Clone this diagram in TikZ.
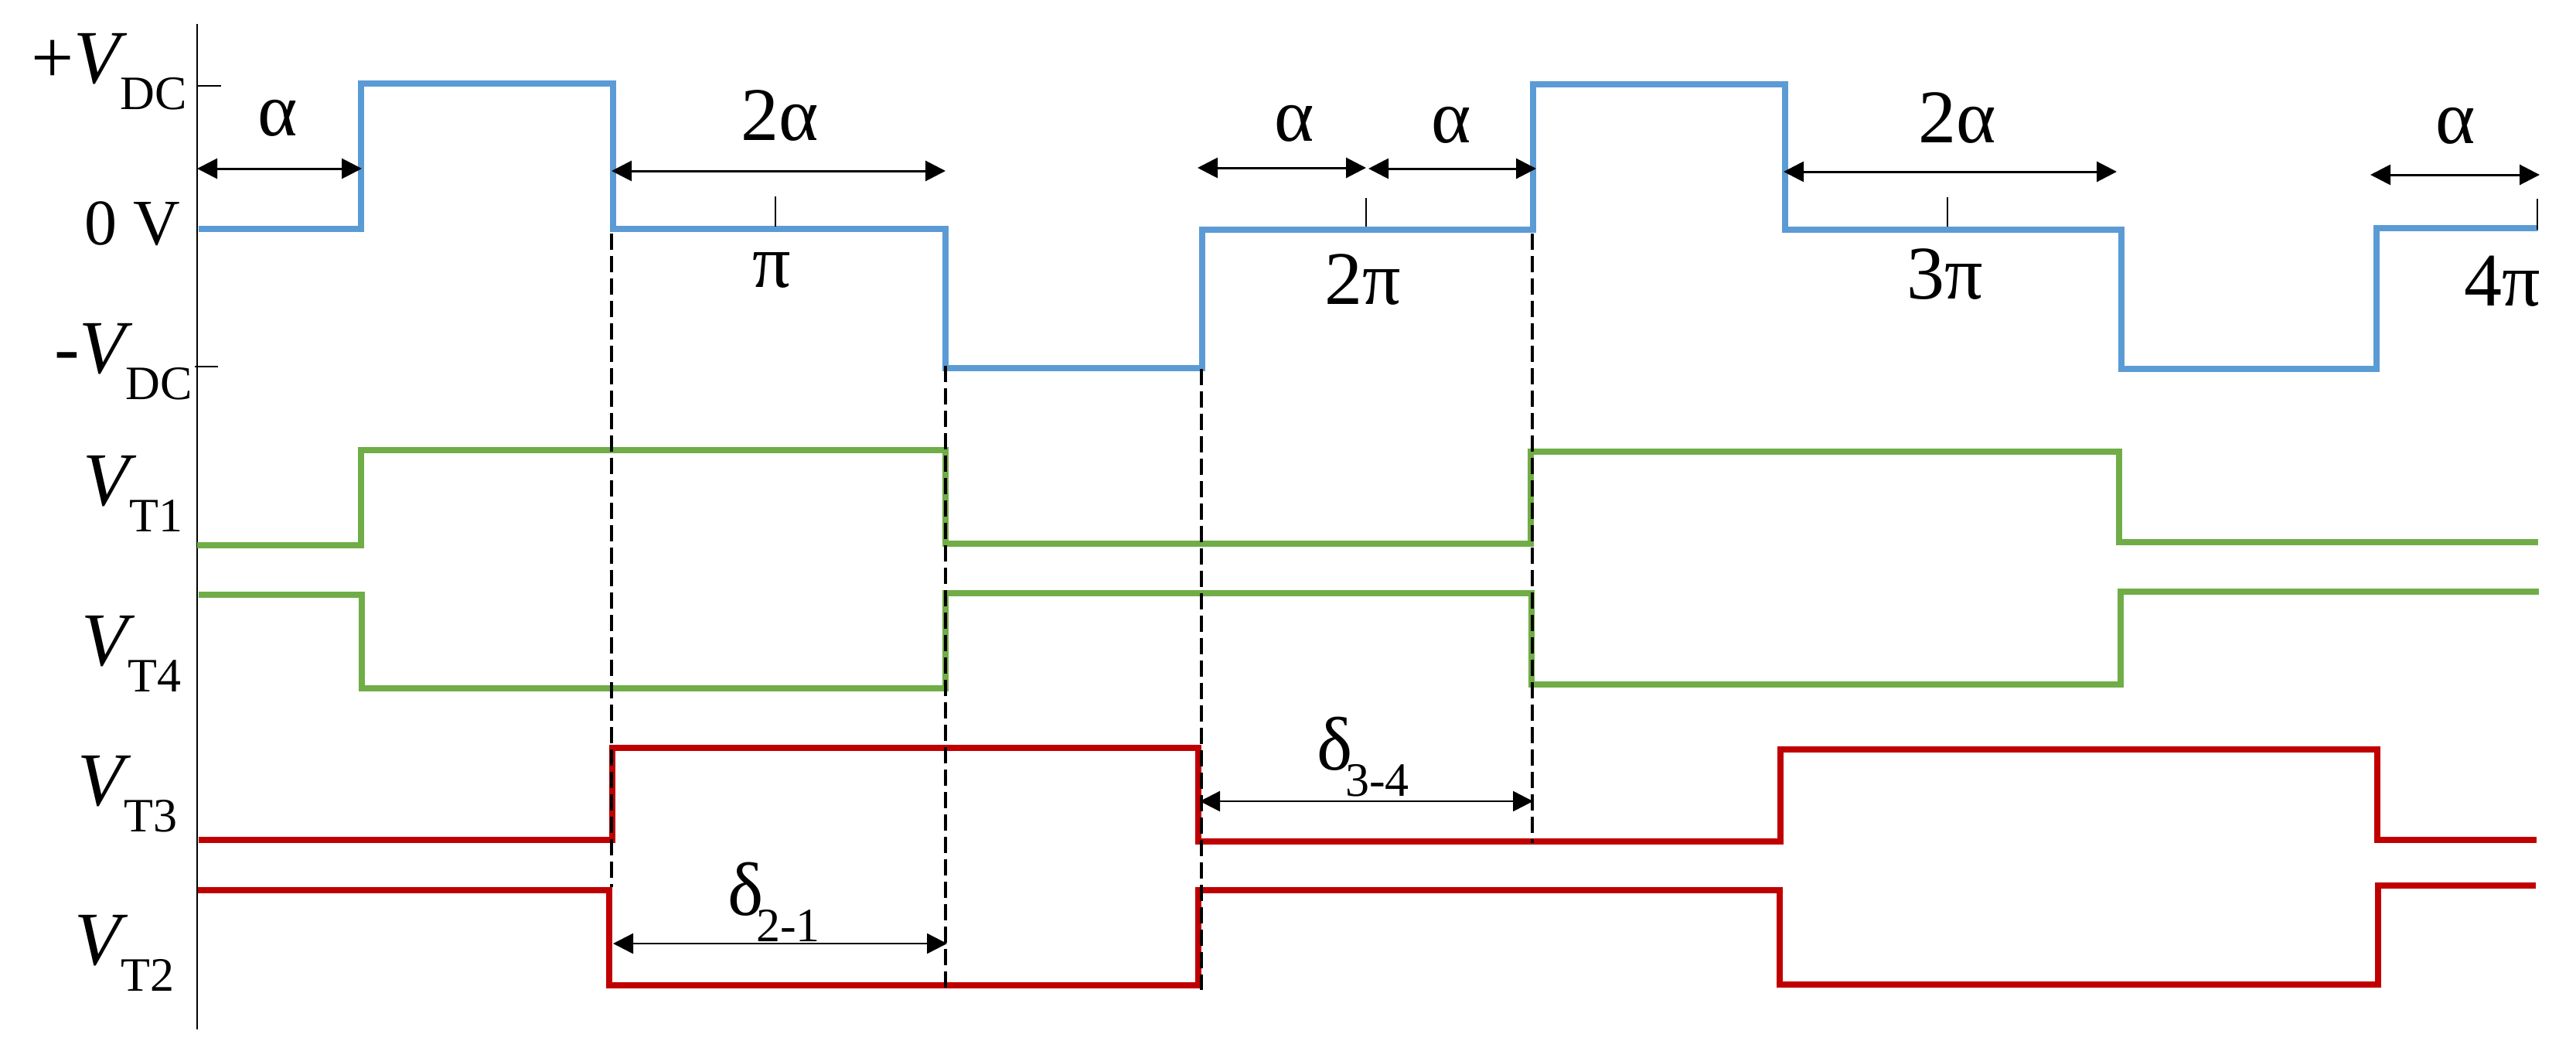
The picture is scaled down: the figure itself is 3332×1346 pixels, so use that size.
\documentclass[tikz,border=0pt]{standalone}
\usepackage{fontspec}
\setmainfont{Liberation Serif}
\usetikzlibrary{arrows.meta}

\definecolor{wblue}{HTML}{5B9BD5}
\definecolor{wgreen}{HTML}{70AD47}
\definecolor{wred}{HTML}{C00000}

\newcommand{\lowtext}[1]{\kern-9pt\raisebox{-34pt}{\fontsize{62}{62}\selectfont #1}}

\tikzset{
    wave/.style={line width=8pt, miter limit=4},
    dim/.style={<->, >={Triangle[length=26pt, width=26pt]}, line width=3pt},
    drop/.style={line width=4pt, dash pattern=on 21pt off 8pt},
    tick/.style={line width=2.5pt},
    lbl/.style={inner sep=0pt, outer sep=0pt, anchor=base, font=\fontsize{98}{98}\selectfont},
    sig/.style={lbl, anchor=base west}
}

\begin{document}
\begin{tikzpicture}[x=1pt, y=-1pt]
    \useasboundingbox (0,0) rectangle (3332,1346);

    % axis and level ticks
    \draw[tick] (255,31) -- (255,1331);
    \draw[tick] (255,111) -- (286,111);
    \draw[tick] (252,474) -- (282,474);

    % output voltage
    \draw[wave, wblue] (257,296) -- (467,296) -- (467,108) -- (793,108) -- (793,296) -- (1223,296) -- (1223,476)
        -- (1555,476) -- (1555,297) -- (1983,297) -- (1983,109) -- (2309,109) -- (2309,297) -- (2744,297)
        -- (2744,477) -- (3074,477) -- (3074,295) -- (3283,295);

    % gate signals, upper leg
    \draw[wave, wgreen] (255,705) -- (467,705) -- (467,582) -- (1223,582) -- (1223,703) -- (1980,703)
        -- (1980,584) -- (2741,584) -- (2741,701) -- (3283,701);
    \draw[wave, wgreen] (257,769) -- (468,769) -- (468,890) -- (1223,890) -- (1223,767) -- (1981,767)
        -- (1981,885) -- (2743,885) -- (2743,765) -- (3284,765);

    % gate signals, lower leg
    \draw[wave, wred] (257,1086) -- (792,1086) -- (792,967) -- (1550,967) -- (1550,1088) -- (2303,1088)
        -- (2303,969) -- (3075,969) -- (3075,1086) -- (3281,1086);
    \draw[wave, wred] (256,1151) -- (788,1151) -- (788,1274) -- (1550,1274) -- (1550,1151) -- (2302,1151)
        -- (2302,1273) -- (3076,1273) -- (3076,1145) -- (3280,1145);

    % dashed drop lines
    \draw[drop] (791,302) -- (791,1147);
    \draw[drop] (1223,473) -- (1223,1278);
    \draw[drop] (1554,477) -- (1554,1280);
    \draw[drop] (1982,302) -- (1982,1090);

    % phase ticks
    \draw[tick] (1003,254) -- (1003,293);
    \draw[tick] (1767,256) -- (1767,293);
    \draw[tick] (2519,255) -- (2519,293);
    \draw[tick] (3282,257) -- (3282,297);

    % ends of the width arrows
    \coordinate (aAl) at (255,218);
    \coordinate (aAr) at (468,218);
    \coordinate (bAl) at (791,221);
    \coordinate (bAr) at (1223,221);
    \coordinate (aBl) at (1549,217);
    \coordinate (aBr) at (1767,217);
    \coordinate (aCl) at (1770,218);
    \coordinate (aCr) at (1987,218);
    \coordinate (bBl) at (2307,222);
    \coordinate (bBr) at (2738,222);
    \coordinate (aDl) at (3066,226);
    \coordinate (aDr) at (3285,226);
    \coordinate (dAl) at (793,1220);
    \coordinate (dAr) at (1225,1220);
    \coordinate (dBl) at (1552,1036);
    \coordinate (dBr) at (1983,1036);

    % width arrows
    \draw[dim] (aAl) -- (aAr);
    \draw[dim] (bAl) -- (bAr);
    \draw[dim] (aBl) -- (aBr);
    \draw[dim] (aCl) -- (aCr);
    \draw[dim] (bBl) -- (bBr);
    \draw[dim] (aDl) -- (aDr);
    \draw[dim, line width=2.5pt] (dAl) -- (dAr);
    \draw[dim, line width=2.5pt] (dBl) -- (dBr);

    % widths
    \node[lbl] (alphaA) at (359,175) {α};
    \node[lbl] (twoalphaA) at (1009,181) {2α};
    \node[lbl] (alphaB) at (1674,182) {α};
    \node[lbl] (alphaC) at (1877,184) {α};
    \node[lbl] (twoalphaB) at (2532,184) {2α};
    \node[lbl] (alphaD) at (3176,185) {α};

    % phases
    \node[lbl] (pione) at (998,371) {π};
    \node[lbl] (pitwo) at (1763,393) {2π};
    \node[lbl] (pithree) at (2516,386) {3π};
    \node[lbl] (pifour) at (3237,395) {4π};

    % levels
    \node[sig] (vplus) at (40,107) {+\textit{V}\lowtext{DC}};
    \node[sig, font=\fontsize{84}{84}\selectfont] (vzero) at (109,316) {0 V};
    \node[sig] (vminus) at (70,482) {-\textit{V}\lowtext{DC}};

    % signal names
    \node[sig] (vtone) at (107,653) {\textit{V}\lowtext{T1}};
    \node[sig] (vtfour) at (105,860) {\textit{V}\lowtext{T4}};
    \node[sig] (vtthree) at (100,1041) {\textit{V}\lowtext{T3}};
    \node[sig] (vttwo) at (96,1247) {\textit{V}\lowtext{T2}};

    % dead times
    \node[sig] (deltaA) at (941,1183) {δ\kern0pt\lowtext{2-1}};
    \node[sig] (deltaB) at (1703,995) {δ\kern0pt\lowtext{3-4}};
\end{tikzpicture}
\end{document}
